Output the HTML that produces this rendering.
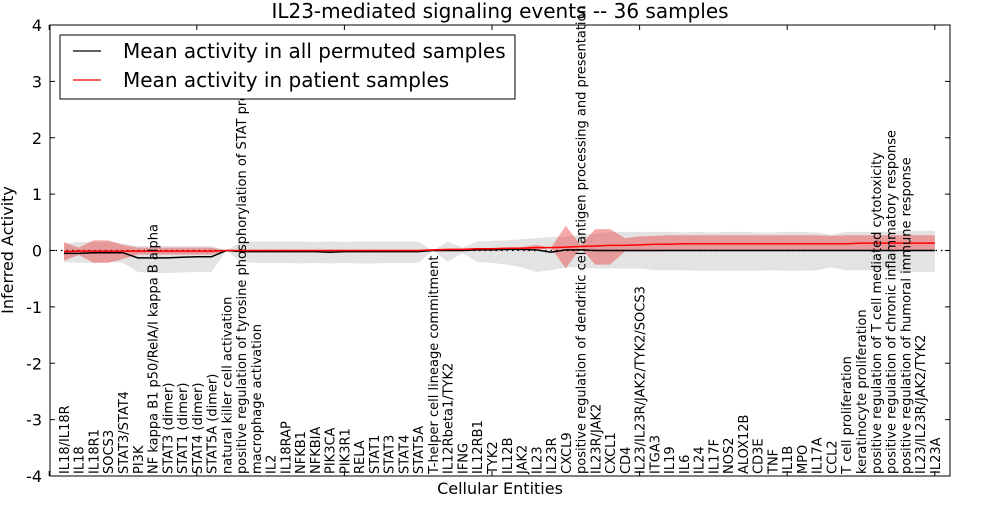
<!DOCTYPE html>
<html><head><meta charset="utf-8"><style>
body{margin:0;background:#fff;width:1000px;height:500px;overflow:hidden;font-family:"Liberation Sans","DejaVu Sans",sans-serif}
</style></head><body>
<svg id="chart" width="1000" height="500" xmlns="http://www.w3.org/2000/svg" font-family="DejaVu Sans, Liberation Sans, sans-serif"></svg>
<script>
const categories=["IL18/IL18R","IL18","IL18R1","SOCS3","STAT3/STAT4","PI3K","NF kappa B1 p50/RelA/I kappa B alpha","STAT3 (dimer)","STAT1 (dimer)","STAT4 (dimer)","STAT5A (dimer)","natural killer cell activation","positive regulation of tyrosine phosphorylation of STAT protein","macrophage activation","IL2","IL18RAP","NFKB1","NFKBIA","PIK3CA","PIK3R1","RELA","STAT1","STAT3","STAT4","STAT5A","T-helper cell lineage commitment","IL12Rbeta1/TYK2","IFNG","IL12RB1","TYK2","IL12B","JAK2","IL23","IL23R","CXCL9","positive regulation of dendritic cell antigen processing and presentation","IL23R/JAK2","CXCL1","CD4","IL23/IL23R/JAK2/TYK2/SOCS3","ITGA3","IL19","IL6","IL24","IL17F","NOS2","ALOX12B","CD3E","TNF","IL1B","MPO","IL17A","CCL2","T cell proliferation","keratinocyte proliferation","positive regulation of T cell mediated cytotoxicity","positive regulation of chronic inflammatory response","positive regulation of humoral immune response","IL23/IL23R/JAK2/TYK2","IL23A"];
const permMean=[-0.05,-0.05,-0.04,-0.04,-0.04,-0.13,-0.13,-0.13,-0.12,-0.11,-0.11,0,-0.02,-0.02,-0.02,-0.02,-0.02,-0.02,-0.03,-0.02,-0.02,-0.02,-0.02,-0.02,-0.02,0,0,0,0.01,0.01,0.02,0.02,0.01,-0.03,0.01,0.01,0,0,0,0,0,0,0,0,0,0,0,0,0,0,0,0,0,0,0,0,0,0,0,0];
const permHi=[0.12,0.15,0.15,0.15,0.12,0.08,0.08,0.08,0.08,0.08,0.08,0,0.15,0.16,0.16,0.16,0.16,0.15,0.16,0.15,0.16,0.16,0.16,0.16,0.16,0,0.16,0.05,0.16,0.17,0.18,0.2,0.22,0.24,0.25,0.27,0.3,0.33,0.33,0.33,0.33,0.33,0.32,0.33,0.32,0.33,0.33,0.32,0.32,0.33,0.33,0.32,0.28,0.33,0.33,0.33,0.33,0.35,0.35,0.35];
const permLo=[-0.2,-0.22,-0.22,-0.2,-0.22,-0.38,-0.4,-0.4,-0.39,-0.38,-0.38,0,-0.2,-0.22,-0.22,-0.22,-0.23,-0.22,-0.23,-0.22,-0.23,-0.23,-0.22,-0.22,-0.22,0,-0.2,-0.05,-0.2,-0.22,-0.25,-0.3,-0.38,-0.35,-0.3,-0.3,-0.32,-0.32,-0.32,-0.32,-0.35,-0.35,-0.35,-0.36,-0.36,-0.36,-0.36,-0.36,-0.35,-0.36,-0.36,-0.35,-0.3,-0.35,-0.35,-0.35,-0.35,-0.38,-0.38,-0.38];
const patMean=[-0.02,-0.01,-0.01,-0.01,-0.01,-0.01,-0.01,-0.01,-0.01,-0.01,-0.01,0,0,0,0,0,0,0,0,0,0,0,0,0,0,0.01,0.02,0.02,0.03,0.03,0.04,0.04,0.05,0.05,0.06,0.07,0.08,0.09,0.09,0.1,0.11,0.11,0.12,0.12,0.12,0.12,0.12,0.12,0.12,0.12,0.12,0.12,0.12,0.12,0.13,0.13,0.13,0.13,0.13,0.13];
const patHi=[0.15,0.05,0.18,0.18,0.1,0.05,0.05,0.05,0.05,0.05,0.05,0,0,0,0,0,0,0,0,0,0,0,0,0,0,0.01,0.02,0.03,0.04,0.04,0.05,0.06,0.1,0.05,0.44,0.1,0.38,0.38,0.22,0.25,0.26,0.27,0.27,0.27,0.27,0.27,0.27,0.27,0.27,0.27,0.27,0.27,0.26,0.27,0.27,0.27,0.27,0.27,0.27,0.27];
const patLo=[-0.18,-0.08,-0.22,-0.22,-0.15,-0.07,-0.07,-0.07,-0.07,-0.07,-0.07,0,0,0,0,0,0,0,0,0,0,0,0,0,0,0,0,0,0.01,0.01,0.02,0.02,0,0.05,-0.32,0.05,-0.25,-0.25,-0.02,-0.02,-0.02,-0.01,-0.01,-0.01,-0.01,-0.01,-0.01,-0.01,-0.01,-0.01,-0.01,-0.01,-0.01,-0.01,-0.01,-0.01,-0.01,-0.01,-0.01,-0.01];
const yTicks=[-4,-3,-2,-1,0,1,2,3,4];
const xTicks=[0,10,20,30,40,50,60];
const NS='http://www.w3.org/2000/svg', svg=document.getElementById('chart');
const L=50,R=950,T=25,B=476;
const xv=v=>49.2+v*14.76, xi=i=>xv(i+1), y=v=>T+(4-v)/8*(B-T);
function mk(t,a,p){const e=document.createElementNS(NS,t);for(const k in a)e.setAttribute(k,a[k]);(p||svg).appendChild(e);return e;}
function band(hi,lo,fill,op,name){let d='M'+hi.map((v,i)=>xi(i)+','+y(v)).join('L')+'L'+lo.map((v,i)=>xi(i)+','+y(v)).reverse().join('L')+'Z';
const e=mk('path',{d:d,fill:fill,'fill-opacity':op,stroke:'none'});

}
function line(vals,col,name,w){const e=mk('polyline',{points:vals.map((v,i)=>xi(i)+','+y(v)).join(' '),fill:'none',stroke:col,'stroke-width':w});

}
band(permHi,permLo,'#c8c8c8',0.5,'permuted-band');
band(patHi,patLo,'#e84040',0.45,'patient-band');
const z=mk('line',{x1:L,x2:R,y1:y(0),y2:y(0),stroke:'#000','stroke-dasharray':'1.5,4','stroke-width':1.2});


line(permMean,'#000','permuted-mean-line',1.5);
line(patMean,'#f00','patient-mean-line',1.5);
categories.forEach((c,i)=>{const t=mk('text',{x:0,y:0,transform:`translate(${xi(i)+5},${B-2}) rotate(-90)`,'font-size':13,fill:'#000'});t.textContent=c;

});
const f=mk('rect',{x:L,y:T,width:R-L,height:B-T,fill:'none',stroke:'#000','stroke-width':1});


yTicks.forEach(v=>{mk('line',{x1:L,x2:L+5,y1:y(v),y2:y(v),stroke:'#000'});mk('line',{x1:R,x2:R-5,y1:y(v),y2:y(v),stroke:'#000'});
const t=mk('text',{x:L-8,y:y(v)+6,'text-anchor':'end','font-size':16});t.textContent=v;

});
xTicks.forEach(v=>{mk('line',{x1:xv(v),x2:xv(v),y1:T,y2:T+5,stroke:'#000'});mk('line',{x1:xv(v),x2:xv(v),y1:B,y2:B-5,stroke:'#000'});});
let t=mk('text',{x:500,y:18,'text-anchor':'middle','font-size':20});t.textContent='IL23-mediated signaling events -- 36 samples';


t=mk('text',{x:500,y:494,'text-anchor':'middle','font-size':16});t.textContent='Cellular Entities';


t=mk('text',{x:0,y:0,transform:'translate(13,250) rotate(-90)','text-anchor':'middle','font-size':16});t.textContent='Inferred Activity';


const g=mk('g',{});


mk('rect',{x:60,y:35,width:455,height:64,fill:'#fff',stroke:'#000'},g);
mk('line',{x1:73,x2:101,y1:51,y2:51,stroke:'#000','stroke-width':1.2},g);
mk('line',{x1:73,x2:101,y1:80,y2:80,stroke:'#f00','stroke-width':1.2},g);
t=mk('text',{x:123,y:58,'font-size':20},g);t.textContent='Mean activity in all permuted samples';


t=mk('text',{x:123,y:87,'font-size':20},g);t.textContent='Mean activity in patient samples';


</script>
</body></html>
